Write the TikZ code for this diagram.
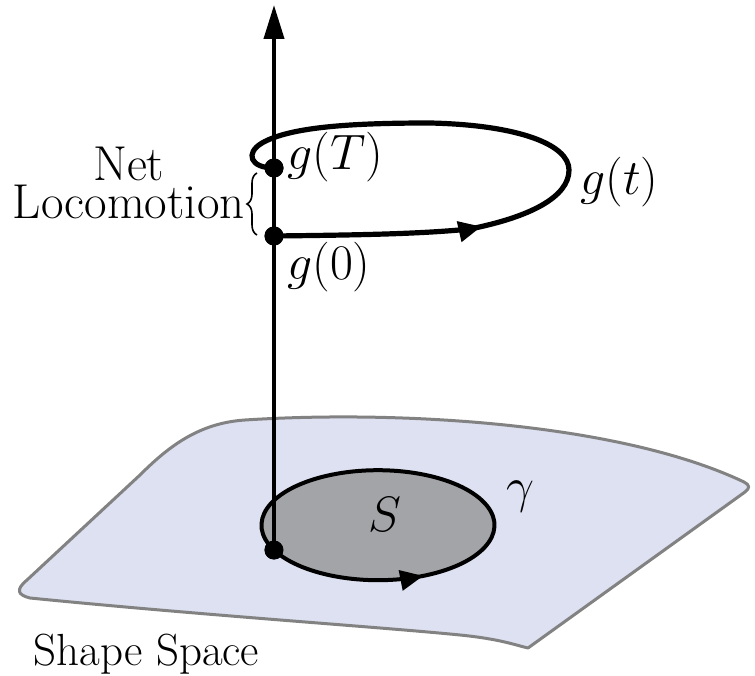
\documentclass[tikz,border=0pt]{standalone}
\usepackage{amsmath}
\usepackage{tikz}
\usetikzlibrary{arrows.meta,decorations.markings,decorations.pathreplacing}

\definecolor{shapefill}{RGB}{221,225,241}
\definecolor{shapeedge}{RGB}{130,130,130}
\definecolor{patchfill}{RGB}{163,164,168}

\begin{document}
\begin{tikzpicture}[
  x=0.5pt, y=0.5pt,
  lbl/.style={font=\fontsize{23.5}{28}\selectfont, inner sep=0pt},
  biglbl/.style={font=\fontsize{24.5}{29}\selectfont, inner sep=0pt},
  surface/.style={fill=shapefill, draw=shapeedge, line width=1.5pt, line join=round},
  patch/.style={fill=patchfill, draw=black, line width=2pt},
  loopline/.style={draw=black, line width=2.6pt, line cap=round},
  axis/.style={line width=2pt, -{Triangle[length=17pt,width=10pt]}},
  dot/.style={circle, fill=black, inner sep=0pt, minimum size=9.5pt},
  midarrow/.style={postaction={decorate},
    decoration={markings, mark=at position #1 with {\arrow{Triangle[length=11.5pt,width=10pt]}}}}
]
\useasboundingbox (0,0) rectangle (755,675);

% ---- shape space ----
\path[surface] (30,77)
  .. controls (200,60) and (380,48) .. (460,40)
  .. controls (500,36) and (515,30) .. (528,27)
  -- (745,183)
  .. controls (750,187) and (750,190) .. (744,193)
  .. controls (620,252) and (400,265) .. (245,255)
  .. controls (200,252) and (170,230) .. (140,200)
  -- (27,95)
  .. controls (15,85) and (18,80) .. cycle;

% ---- points ----
\node[dot] (p0) at (274,125) {};
\node[dot] (g0) at (274,439) {};
\node[dot] (gT) at (274,507) {};
\coordinate (axtop) at (274,670);

% ---- closed curve gamma ----
\draw[patch, midarrow=78pt] (p0.center)
  arc[start angle=206.8, end angle=566.8, x radius=116.5, y radius=55] -- cycle;

% ---- fiber axis ----
\draw[axis] (p0.center) -- (axtop);

% ---- group trajectory ----
\draw[loopline, midarrow=104pt] (g0.center)
  .. controls (360,440) and (420,441) .. (470,446)
  .. controls (530,458) and (569,478) .. (569,505)
  .. controls (569,530) and (520,550) .. (430,552)
  .. controls (350,552) and (290,548) .. (262,532)
  .. controls (245,522) and (250,507) .. (gT.center);

\node[dot] at (p0) {};
\node[dot] at (g0) {};
\node[dot] at (gT) {};

% ---- net locomotion ----
\coordinate (brlo) at (257,440);
\coordinate (brhi) at (257,502);
\draw[decorate, decoration={brace, amplitude=5pt}, line width=0.8pt] (brlo) -- (brhi);
\node[biglbl, anchor=base east] (loco) at (245,456) {Locomotion};
\node[biglbl, anchor=base] (net) at ([yshift=19pt]loco.base) {Net};

% ---- labels ----
\node[lbl, anchor=base west] (gTlbl) at (287,505) {$g(T)$};
\node[lbl, anchor=base west] (g0lbl) at (287,395) {$g(0)$};
\node[lbl, anchor=base west] (gtlbl) at (580,480) {$g(t)$};
\node[lbl] (Slbl) at (385,161) {$S$};
\node[lbl] (gammalbl) at (520,178) {$\gamma$};
\node[lbl, font=\fontsize{22.5}{27}\selectfont, anchor=base west] (shapelbl) at (33,10) {Shape Space};

\end{tikzpicture}
\end{document}
